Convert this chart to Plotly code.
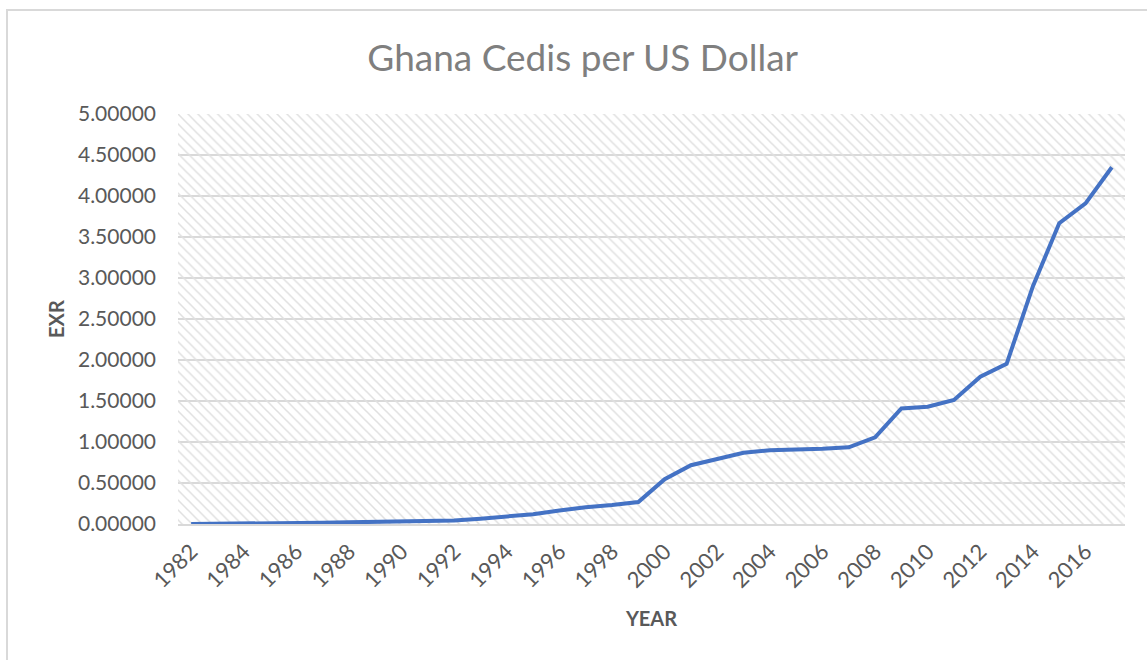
import plotly.graph_objects as go

# Annual average exchange rate, Ghana cedis per US dollar
years = list(range(1982, 2018))
exr = [0.00028, 0.00088, 0.0036, 0.0054, 0.0089, 0.0154, 0.0202, 0.0270,
       0.0326, 0.0368, 0.0437, 0.0649, 0.0956, 0.1200, 0.1637, 0.2050,
       0.2314, 0.2669, 0.5455, 0.7170, 0.7933, 0.8678, 0.9005, 0.9073,
       0.9175, 0.9350, 1.0579, 1.4088, 1.4310, 1.5119, 1.7958, 1.9537,
       2.8996, 3.6683, 3.9095, 4.3512]
y_ticks = [0.0, 0.5, 1.0, 1.5, 2.0, 2.5, 3.0, 3.5, 4.0, 4.5, 5.0]
x_ticks = years[::2]

TEXT = "#595959"
GRID = "#d9d9d9"
FONT = "Lato"

x_lo, x_hi = years[0] - 0.5, years[-1] + 0.5
y_lo, y_hi = y_ticks[0], y_ticks[-1]

fig = go.Figure()

# hatched plot-area background
fig.add_trace(go.Scatter(
    x=[x_lo, x_hi, x_hi, x_lo, x_lo],
    y=[y_lo, y_lo, y_hi, y_hi, y_lo],
    mode="lines", line=dict(width=0), fill="toself",
    fillcolor="rgba(0,0,0,0)",
    fillpattern=dict(shape="\\", size=7, solidity=0.22,
                     fgcolor="#e0e0e0", bgcolor="rgba(0,0,0,0)", fgopacity=1),
    hoverinfo="skip", showlegend=False,
))

fig.add_trace(go.Scatter(
    x=years, y=exr, mode="lines",
    line=dict(color="#4472C4", width=4),
    showlegend=False, name="EXR",
))

W, H = 1147, 660
L, R, T, B = 178, 22, 114, 136
pw, ph = W - L - R, H - T - B

def px_x(p):
    return (p - L) / pw

def px_y(p):
    return (H - B - p) / ph

fig.update_layout(
    width=W, height=H,
    margin=dict(l=L, r=R, t=T, b=B, pad=0),
    paper_bgcolor="white", plot_bgcolor="white",
    font=dict(family=FONT, color=TEXT, size=20),
    title=dict(text="Ghana Cedis per US Dollar", x=0.508, xanchor="center",
               y=1 - 58 / H, yanchor="middle", yref="container",
               font=dict(family=FONT, size=37, color="#7f7f7f")),
    xaxis=dict(range=[x_lo, x_hi], tickmode="array", tickvals=x_ticks,
               ticktext=[str(v) for v in x_ticks], tickangle=-45,
               showgrid=False, zeroline=False, showline=True,
               linecolor=GRID, linewidth=2, ticks="",
               ticklabelstandoff=4,
               tickfont=dict(size=22, color=TEXT),
               title=dict(text="<b>YEAR</b>", font=dict(size=20, color=TEXT),
                          standoff=20)),
    yaxis=dict(range=[y_lo, y_hi], tickmode="array", tickvals=y_ticks,
               tickformat=".5f", showgrid=True, gridcolor=GRID, gridwidth=1.5,
               zeroline=False, showline=False, ticks="",
               ticklabelstandoff=21,
               tickfont=dict(size=21, color=TEXT),
               title=dict(text="<b>EXR</b>", font=dict(size=20, color=TEXT),
                          standoff=7)),
    shapes=[dict(type="rect", xref="paper", yref="paper",
                 x0=px_x(7), x1=px_x(W + 5), y0=px_y(H + 5), y1=px_y(10),
                 line=dict(color=GRID, width=2), fillcolor="rgba(0,0,0,0)",
                 layer="below")],
)

fig.write_html("out.html")
